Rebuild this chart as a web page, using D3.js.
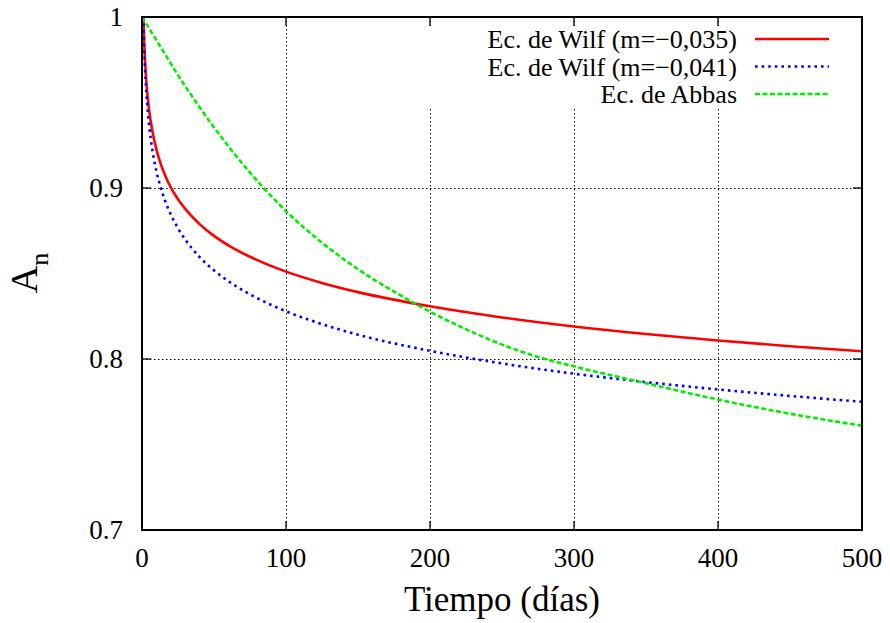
<!DOCTYPE html>
<html>
<head>
<meta charset="utf-8">
<script src="https://cdn.jsdelivr.net/npm/d3@7"></script>
<style>
  html, body { margin: 0; padding: 0; background: #fff; }
  svg { display: block; }
  text { font-family: "Liberation Serif", "Times New Roman", "DejaVu Serif", serif; fill: #000; }
</style>
</head>
<body>
<svg id="chart" width="890" height="623"></svg>
<script>
// ---- Data ----
const xTicks = [0, 100, 200, 300, 400, 500];
const yTicks = [0.7, 0.8, 0.9, 1];
const yTickLabels = ["0.7", "0.8", "0.9", "1"];

const wilf035T = [1, 1.5, 2, 3, 4, 5, 7, 10, 13, 16, 20, 25, 30, 40, 50, 60, 75, 100, 125, 150, 200, 250, 300, 350, 400, 450, 500];
const wilf035A = [1.0, 0.9859, 0.9760, 0.9623, 0.9526, 0.9453, 0.9342, 0.9226, 0.9141, 0.9075, 0.9004, 0.8934, 0.8878, 0.8789, 0.8720, 0.8665, 0.8598, 0.8511, 0.8445, 0.8391, 0.8308, 0.8243, 0.8190, 0.8146, 0.8108, 0.8075, 0.8045];

const wilf041T = [1, 1.5, 2, 3, 4, 5, 7, 10, 13, 16, 20, 25, 30, 40, 50, 60, 75, 100, 125, 150, 200, 250, 300, 350, 400, 450, 500];
const wilf041A = [1.0, 0.9835, 0.9720, 0.9560, 0.9447, 0.9362, 0.9233, 0.9099, 0.9002, 0.8926, 0.8845, 0.8764, 0.8699, 0.8596, 0.8518, 0.8455, 0.8378, 0.8279, 0.8204, 0.8142, 0.8048, 0.7974, 0.7914, 0.7865, 0.7822, 0.7784, 0.7750];

const abbasT = [0, 10, 25, 50, 75, 100, 125, 150, 175, 200, 225, 250, 275, 300, 350, 400, 450, 500];
const abbasA = [1.0, 0.9865, 0.966, 0.9355, 0.909, 0.8865, 0.868, 0.8525, 0.8394, 0.8277, 0.8174, 0.8084, 0.8012, 0.7957, 0.7858, 0.7763, 0.7680, 0.7610];

const seriesNames = ["Ec. de Wilf (m=\u22120,035)", "Ec. de Wilf (m=\u22120,041)", "Ec. de Abbas"];

// ---- Layout ----
const svg = d3.select("#chart");
const L = 142, R = 862, T = 17, B = 530;

const x = d3.scaleLinear().domain([0, 500]).range([L, R]);
const y = d3.scaleLinear().domain([0.7, 1]).range([B, T]);

// grid
const grid = svg.append("g");
grid.selectAll("line.gx").data(xTicks.filter(d => d > 0 && d < 500)).enter()
  .append("line")
  .attr("x1", d => x(d) + 0.5).attr("x2", d => x(d) + 0.5)
  .attr("y1", T).attr("y2", B)
  .attr("stroke", "#000").attr("stroke-width", 1)
  .attr("stroke-dasharray", "1.5,2.5");
grid.selectAll("line.gy").data(yTicks.filter(d => d > 0.7 && d < 1)).enter()
  .append("line")
  .attr("x1", L).attr("x2", R)
  .attr("y1", d => y(d) + 0.5).attr("y2", d => y(d) + 0.5)
  .attr("stroke", "#000").attr("stroke-width", 1)
  .attr("stroke-dasharray", "1.5,2.5");

// opaque key background (hides grid beneath legend)
svg.append("rect")
  .attr("x", 420).attr("y", 26).attr("width", 430).attr("height", 82)
  .attr("fill", "#fff");

// ticks (inside, mirrored)
const tickLen = 9;
const ticks = svg.append("g").attr("stroke", "#000").attr("stroke-width", 1.3);
xTicks.forEach(d => {
  ticks.append("line").attr("x1", x(d)).attr("x2", x(d)).attr("y1", B).attr("y2", B - tickLen);
  ticks.append("line").attr("x1", x(d)).attr("x2", x(d)).attr("y1", T).attr("y2", T + tickLen);
});
yTicks.forEach(d => {
  ticks.append("line").attr("x1", L).attr("x2", L + tickLen).attr("y1", y(d)).attr("y2", y(d));
  ticks.append("line").attr("x1", R).attr("x2", R - tickLen).attr("y1", y(d)).attr("y2", y(d));
});

// tick labels
svg.append("g").selectAll("text").data(xTicks).enter().append("text")
  .attr("x", d => x(d)).attr("y", 567)
  .attr("text-anchor", "middle")
  .attr("font-size", 27)
  .text(d => d);
svg.append("g").selectAll("text").data(yTicks).enter().append("text")
  .attr("x", 123).attr("y", d => y(d) + 9)
  .attr("text-anchor", "end")
  .attr("font-size", 27)
  .text((d, i) => yTickLabels[i]);

// axis titles
svg.append("text")
  .attr("x", 502).attr("y", 611)
  .attr("text-anchor", "middle")
  .attr("font-size", 35)
  .text("Tiempo (días)");

const yl = svg.append("text")
  .attr("transform", "translate(37,273) rotate(-90)")
  .attr("text-anchor", "middle")
  .attr("font-size", 38);
yl.append("tspan").text("A");
yl.append("tspan").attr("font-size", 26).attr("dy", 11).text("n");

// curves
const clip = svg.append("clipPath").attr("id", "plotclip");
clip.append("rect").attr("x", L).attr("y", T).attr("width", R - L).attr("height", B - T);

const line = d3.line().x(d => x(d[0])).y(d => y(d[1])).curve(d3.curveMonotoneX);
const styles = [
  { color: "#ff0000", width: 2.6, dash: null },
  { color: "#0000ff", width: 2.6, dash: "2.6,4" },
  { color: "#00ee00", width: 2.6, dash: "5,2.5" }
];
const series = [
  d3.zip(wilf035T, wilf035A),
  d3.zip(wilf041T, wilf041A),
  d3.zip(abbasT, abbasA)
];
const curves = svg.append("g").attr("clip-path", "url(#plotclip)");
series.forEach((s, i) => {
  curves.append("path")
    .attr("d", line(s))
    .attr("fill", "none")
    .attr("stroke", styles[i].color)
    .attr("stroke-width", styles[i].width)
    .attr("stroke-dasharray", styles[i].dash);
});

// frame
svg.append("rect")
  .attr("x", L).attr("y", T).attr("width", R - L).attr("height", B - T)
  .attr("fill", "none").attr("stroke", "#000").attr("stroke-width", 2);

// legend
const legY = [39, 66.5, 94];
seriesNames.forEach((name, i) => {
  svg.append("text")
    .attr("x", 737).attr("y", legY[i] + 9)
    .attr("text-anchor", "end")
    .attr("font-size", 26)
    .text(name);
  svg.append("line")
    .attr("x1", 755).attr("x2", 829)
    .attr("y1", legY[i]).attr("y2", legY[i])
    .attr("stroke", styles[i].color)
    .attr("stroke-width", styles[i].width)
    .attr("stroke-dasharray", styles[i].dash);
});
</script>
</body>
</html>
